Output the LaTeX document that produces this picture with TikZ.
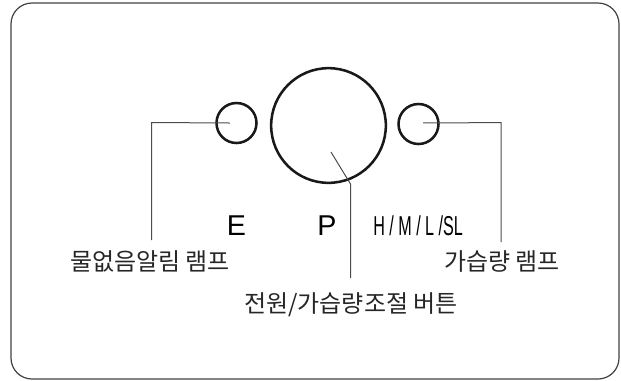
\documentclass[tikz,border=0pt]{standalone}
\usepackage{fontspec}
\setmainfont{Liberation Sans}
\newfontfamily\kr{Noto Sans CJK KR}
\begin{document}
\begin{tikzpicture}[x=0.75pt,y=-0.75pt,
  frame/.style={draw=black!75,line width=0.9pt,rounded corners=15.75pt},
  lamp/.style={circle,draw=black!90,line width=1.9pt,inner sep=0pt},
  leader/.style={draw=black!70,line width=0.75pt},
  letter/.style={inner sep=0pt,font=\fontsize{21.5pt}{24pt}\selectfont,anchor=base},
  krlabel/.style={inner sep=0pt,font=\kr\fontsize{18pt}{22pt}\selectfont,text=black!85}]
\useasboundingbox (0,0) rectangle (621,380);
\draw[frame] (11,3) rectangle (619,379);
\node[lamp,minimum size=30pt] (lampE) at (236.5,123) {};
\node[lamp,minimum size=86pt] (btn) at (328.5,125.5) {};
\node[lamp,minimum size=30pt] (lampH) at (418.5,124) {};
\coordinate (eTop) at (151.7,122.5);
\coordinate (eEnd) at (151.7,240);
\coordinate (hTop) at (501,122.7);
\coordinate (hEnd) at (501,242);
\coordinate (bStart) at (331,152);
\coordinate (bKnee) at (350.5,184);
\coordinate (bEnd) at (350.5,278);
\draw[leader] ([xshift=-4.9pt]lampE.center) -- (eTop) -- (eEnd);
\draw[leader] ([xshift=3.5pt,yshift=0.9pt]lampH.center) -- (hTop) -- (hEnd);
\draw[leader] (bStart) -- (bKnee) -- (bEnd);
\node[letter] (tE) at (236.5,235) {E};
\node[letter] (tP) at (327,235) {P};
\node[letter,anchor=base west,font=\fontsize{20.5pt}{24pt}\selectfont] (tH) at (373,235) {\scalebox{0.59}[1]{H / M / L /SL}};
\node[krlabel] (lE) at (150,261.5) {물없음알림 램프};
\node[krlabel] (lH) at (502,261.5) {가습량 램프};
\node[krlabel] (lB) at (351,305) {전원/가습량조절 버튼};
\end{tikzpicture}
\end{document}
